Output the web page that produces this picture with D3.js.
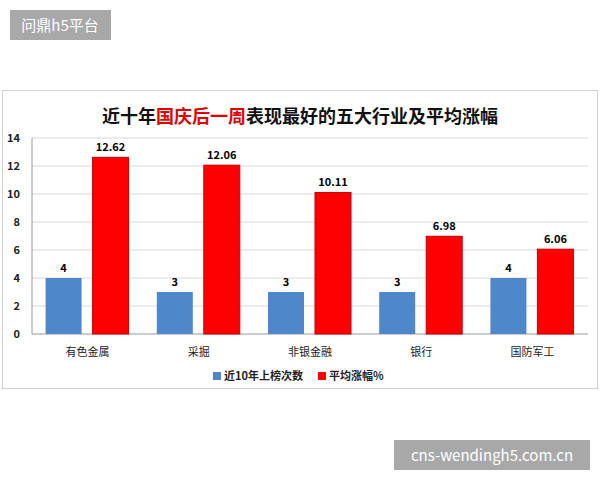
<!DOCTYPE html><html><head><meta charset="utf-8"><script src="https://cdn.jsdelivr.net/npm/d3@7"></script>
<style>body{margin:0;background:#fff}</style></head><body><svg id="c" width="600" height="480"></svg>
<script>
const categories=["有色金属","采掘","非银金融","银行","国防军工"];
const counts=[4,3,3,3,4];
const returns=[12.62,12.06,10.11,6.98,6.06];
const yTicks=[0,2,4,6,8,10,12,14];
const returnLabels=["12.62","12.06","10.11","6.98","6.06"];
const svg=d3.select("#c");
const F="'Noto Sans CJK SC',sans-serif";
svg.append("rect").attr("x",2.5).attr("y",90.5).attr("width",595).attr("height",298).attr("fill","#fff").attr("stroke","#d0d0d0");
const x=d3.scaleBand().domain(categories).range([32,588]);
const y=d3.scaleLinear().domain([0,14]).range([334,138]);
const g=svg.append("g");
yTicks.forEach(t=>g.append("line").attr("x1",32).attr("x2",588).attr("y1",y(t)).attr("y2",y(t)).attr("stroke",t?"#d9d9d9":"#999"));
g.append("line").attr("x1",32).attr("x2",32).attr("y1",138).attr("y2",334).attr("stroke","#999");
yTicks.forEach(t=>g.append("text").attr("x",20).attr("y",y(t)+4).attr("text-anchor","end").attr("font-family",F).attr("font-size",11).attr("font-weight","bold").attr("fill","#222").text(t));
categories.forEach((c,i)=>{
 const cx=x(c)+x.bandwidth()/2;
 g.append("rect").attr("x",cx-42).attr("width",36).attr("y",y(counts[i])).attr("height",y(0)-y(counts[i])).attr("fill","#4f87cb");
 g.append("rect").attr("x",cx+5).attr("width",36).attr("y",y(returns[i])).attr("height",y(0)-y(returns[i])).attr("fill","#ff0000").attr("stroke","#c00000");
 g.append("text").attr("x",cx-24).attr("y",y(counts[i])-6).attr("text-anchor","middle").attr("font-family",F).attr("font-size",11).attr("font-weight","bold").text(counts[i]);
 g.append("text").attr("x",cx+23).attr("y",y(returns[i])-6).attr("text-anchor","middle").attr("font-family",F).attr("font-size",11).attr("font-weight","bold").text(returnLabels[i]);
 g.append("text").attr("x",cx).attr("y",356).attr("text-anchor","middle").attr("font-family",F).attr("font-size",11).attr("fill","#222").text(c);
});
const t=svg.append("text").attr("x",300).attr("y",123).attr("text-anchor","middle").attr("font-family",F).attr("font-size",18).attr("font-weight","bold").attr("fill","#111");
t.append("tspan").text("近十年");t.append("tspan").attr("fill","#e00000").text("国庆后一周");t.append("tspan").text("表现最好的五大行业及平均涨幅");
const L=[["近10年上榜次数","#4f87cb",213],["平均涨幅%","#ff0000",318]];
L.forEach(([s,c,lx])=>{svg.append("rect").attr("x",lx).attr("y",372).attr("width",8).attr("height",8).attr("fill",c);
 svg.append("text").attr("x",lx+11).attr("y",380).attr("font-family",F).attr("font-size",11).attr("font-weight","bold").attr("fill","#222").text(s);});
svg.append("rect").attr("x",10).attr("y",10).attr("width",101).attr("height",30).attr("fill","#999").attr("opacity",0.85);
svg.append("text").attr("x",60).attr("y",31).attr("text-anchor","middle").attr("font-family",F).attr("font-size",15).attr("fill","#fff").text("问鼎h5平台");
svg.append("rect").attr("x",394).attr("y",440).attr("width",196).attr("height",30).attr("fill","#999").attr("opacity",0.85);
svg.append("text").attr("x",492).attr("y",461).attr("text-anchor","middle").attr("font-family",F).attr("font-size",15).attr("fill","#fff").text("cns-wendingh5.com.cn");
</script></body></html>
